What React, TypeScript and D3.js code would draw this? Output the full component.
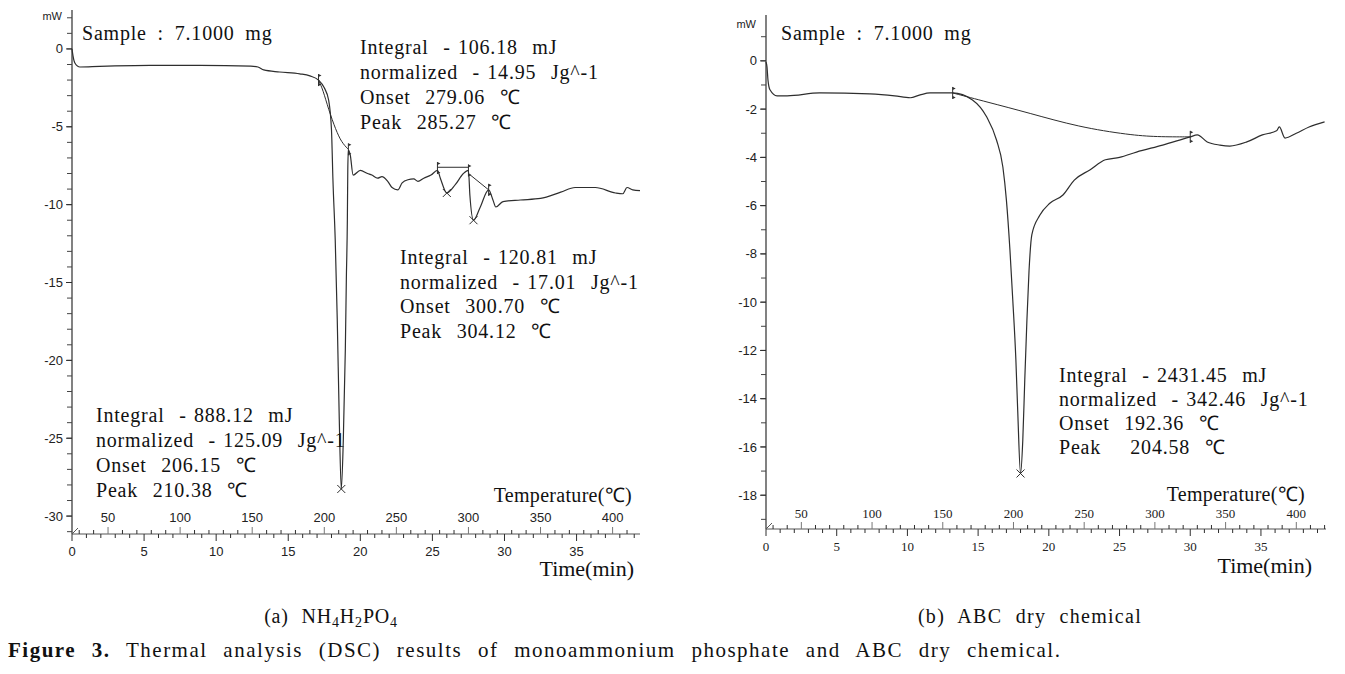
import React from 'react';
import * as d3 from 'd3';

// ---------- DATA (time in min, heat flow in mW) ----------
const curveA: [number, number][] = [
  [0, 0], [0.07, -0.45], [0.2, -0.9], [0.55, -1.16], [1.9, -1.12], [5.4, -1.06], [8.9, -1.06],
  [12.4, -1.1], [12.9, -1.16], [13.3, -1.35], [14.4, -1.48], [15.8, -1.6], [16.5, -1.73],
  [17.1, -2.0], [17.5, -2.5], [17.8, -3.28], [18.0, -5.2], [18.1, -8.4], [18.26, -12.3],
  [18.4, -17.4], [18.54, -23.8], [18.68, -28.26], [18.82, -25.1], [18.96, -19.3], [19.03, -14.8],
  [19.1, -11.0], [19.13, -7.8], [19.17, -6.5], [19.3, -6.8], [19.5, -8.1], [20.0, -7.8],
  [20.5, -8.0], [20.8, -8.1], [21.2, -8.3], [21.5, -8.2], [21.9, -8.5], [22.2, -8.9],
  [22.6, -9.05], [22.9, -8.6], [23.3, -8.4], [23.7, -8.35], [24.0, -8.5], [24.4, -8.3],
  [24.9, -8.1], [25.35, -7.8], [25.55, -8.3], [26.0, -9.25], [26.6, -8.7], [27.15, -8.0],
  [27.5, -7.8], [27.6, -9.4], [27.85, -11.0], [28.3, -10.2], [28.9, -9.05], [29.2, -9.7],
  [29.4, -10.15], [29.9, -9.8], [31.1, -9.7], [32.5, -9.6], [33.9, -9.2], [34.9, -8.9],
  [36.3, -8.9], [37.7, -9.25], [38.2, -9.3], [38.5, -8.9], [38.9, -9.05], [39.4, -9.1],
];
const baseA1: [number, number][] = [[17.1, -2.0], [17.4, -2.6], [17.8, -3.9], [18.3, -5.2], [18.7, -6.0], [19.17, -6.45]];
const baseA2: [number, number][] = [[25.35, -7.6], [27.5, -7.6]];
const baseA3: [number, number][] = [[27.5, -8.0], [28.9, -9.05]];
const limitsA: [number, number][] = [[17.1, -2.0], [19.17, -6.45], [25.35, -7.65], [27.5, -7.8], [28.9, -9.05]];
const peaksA: [number, number][] = [[18.68, -28.26], [26.0, -9.25], [27.85, -11.0]];

const curveB: [number, number][] = [
  [0, -0.05], [0.07, -0.25], [0.14, -0.8], [0.28, -1.2], [0.78, -1.45], [1.5, -1.45], [3.8, -1.33],
  [7.35, -1.37], [9.1, -1.45], [10.2, -1.53], [10.9, -1.41], [11.6, -1.33], [13.2, -1.33],
  [14.6, -1.62], [15.6, -2.32], [16.3, -3.28], [16.75, -4.4], [17.0, -5.77], [17.25, -7.84],
  [17.45, -9.9], [17.67, -12.4], [17.8, -14.5], [18.0, -17.1], [18.16, -15.7], [18.3, -13.2],
  [18.45, -10.75], [18.6, -8.7], [18.8, -7.2], [19.36, -6.4], [20.07, -5.9], [21.0, -5.56],
  [21.8, -4.94], [22.9, -4.52], [24.0, -4.1], [25.0, -4.0], [26.2, -3.78], [28.05, -3.49],
  [30.0, -3.15], [30.5, -3.07], [31.2, -3.36], [32.1, -3.49], [32.8, -3.53], [34.0, -3.36],
  [35.1, -3.07], [36.1, -2.9], [36.3, -2.74], [36.7, -3.2], [37.5, -3.0], [38.4, -2.74], [39.5, -2.53],
];
const baseB: [number, number][] = [[13.2, -1.33], [15.6, -1.7], [18.6, -2.16], [22.1, -2.74], [25.7, -3.07], [27.6, -3.15], [30.0, -3.15]];
const limitsB: [number, number][] = [[13.2, -1.33], [30.0, -3.15]];
const peaksB: [number, number][] = [[18.0, -17.1]];

const timeTickLabels = [0, 5, 10, 15, 20, 25, 30, 35];
const tempTickLabels = [50, 100, 150, 200, 250, 300, 350, 400];
const yTickLabelsA = [0, -5, -10, -15, -20, -25, -30];
const yTickLabelsB = [0, -2, -4, -6, -8, -10, -12, -14, -16, -18];

const sampleText = 'Sample : 7.1000 mg';
const annotA1 = ['Integral  - 106.18  mJ', 'normalized  - 14.95  Jg^-1', 'Onset  279.06  ℃', 'Peak  285.27  ℃'];
const annotA2 = ['Integral  - 120.81  mJ', 'normalized  - 17.01  Jg^-1', 'Onset  300.70  ℃', 'Peak  304.12  ℃'];
const annotA3 = ['Integral  - 888.12  mJ', 'normalized  - 125.09  Jg^-1', 'Onset  206.15  ℃', 'Peak  210.38  ℃'];
const annotB1 = ['Integral  - 2431.45  mJ', 'normalized  - 342.46  Jg^-1', 'Onset  192.36  ℃', 'Peak    204.58  ℃'];

const START_TEMP = 25; // °C at t = 0
const RATE = 10; // °C/min

const SERIF = '"Liberation Serif", "Times New Roman", serif';
const SANS = '"Liberation Sans", Arial, sans-serif';
const INK = '#2e2e2e';

type Pt = [number, number];

function Flag({ x, y }: { x: number; y: number }) {
  return (
    <g stroke={INK} fill={INK}>
      <line x1={x} x2={x} y1={y - 6} y2={y + 6} strokeWidth={1} />
      <path d={`M${x},${y - 6} L${x + 3},${y - 4.5} L${x},${y - 3} Z`} stroke="none" />
      <path d={`M${x},${y + 6} L${x + 3},${y + 4.5} L${x},${y + 3} Z`} stroke="none" />
    </g>
  );
}

function Cross({ x, y }: { x: number; y: number }) {
  return (
    <g stroke={INK} strokeWidth={1}>
      <line x1={x - 4} x2={x + 4} y1={y - 4} y2={y + 4} />
      <line x1={x - 4} x2={x + 4} y1={y + 4} y2={y - 4} />
    </g>
  );
}

function TextBlock({ lines, x, y, dy }: { lines: string[]; x: number; y: number; dy: number }) {
  return (
    <g>
      {lines.map((l, i) => (
        <text key={i} x={x} y={y + i * dy} fontFamily={SERIF} fontSize={20} fill="#111"
          letterSpacing={0.8} wordSpacing={1.5} style={{ whiteSpace: 'pre' }}>
          {l}
        </text>
      ))}
    </g>
  );
}

interface PanelProps {
  x0: number; x1: number; tMax: number;
  yTop: number; yBot: number; vTop: number; vBot: number;
  yLabels: number[]; yMinor: number[]; mwY: number;
  curve: Pt[]; bases: Pt[][]; limits: Pt[]; peaks: Pt[];
  tickFont: string;
  tempLabelOff: number; timeLabelOff: number;
}

function Panel(p: PanelProps) {
  const x = d3.scaleLinear().domain([0, p.tMax]).range([p.x0, p.x1]);
  const xT = d3.scaleLinear().domain([START_TEMP, START_TEMP + p.tMax * RATE]).range([p.x0, p.x1]);
  const y = d3.scaleLinear().domain([p.vTop, p.vBot]).range([p.yTop, p.yBot]);
  const line = d3.line<Pt>().x(d => x(d[0])).y(d => y(d[1])).curve(d3.curveMonotoneX);
  const lin = d3.line<Pt>().x(d => x(d[0])).y(d => y(d[1])).curve(d3.curveBasis);
  const axisY = p.yBot;
  const minTicks = d3.range(0, p.tMax + 0.001, 1);
  const tempTicks = d3.range(30, START_TEMP + p.tMax * RATE, 10);
  return (
    <g>
      {/* y axis */}
      <line x1={p.x0} x2={p.x0} y1={p.yTop} y2={axisY} stroke={INK} strokeWidth={1.2} />
      {p.yMinor.map(v => (
        <line key={'ym' + v} x1={p.x0 - 5} x2={p.x0} y1={y(v)} y2={y(v)} stroke="#444" strokeWidth={1} />
      ))}
      {p.yLabels.map(v => (
        <g key={'yl' + v}>
          <line x1={p.x0 - 6} x2={p.x0} y1={y(v)} y2={y(v)} stroke={INK} strokeWidth={1} />
          <text x={p.x0 - 9} y={y(v)} dy="0.35em" textAnchor="end" fontFamily={SANS} fontSize={13} fill="#222">
            {v}
          </text>
        </g>
      ))}
      <text x={p.x0 - 10} y={p.mwY} dy="0.35em" textAnchor="end" fontFamily={SANS} fontSize={11} fill="#222">mW</text>
      {/* bottom axis */}
      <line x1={p.x0} x2={p.x1} y1={axisY} y2={axisY} stroke="#555" strokeWidth={1.2} />
      <line x1={p.x0} x2={p.x0 + 6} y1={axisY} y2={axisY - 6} stroke="#555" strokeWidth={1} />
      {minTicks.map(t => (
        <line key={'tt' + t} x1={x(t)} x2={x(t)} y1={axisY} y2={axisY + (t % 5 === 0 ? 7 : 4)} stroke={INK} strokeWidth={1} />
      ))}
      {tempTicks.map(T => (
        <line key={'Tt' + T} x1={xT(T)} x2={xT(T)} y1={axisY} y2={axisY - (T % 50 === 0 ? 7 : 4)} stroke={T % 50 === 0 ? '#777' : INK} strokeWidth={1} />
      ))}
      {timeTickLabels.map(t => (
        <text key={'tl' + t} x={x(t)} y={axisY + p.timeLabelOff} dy="0.35em" textAnchor="middle" fontFamily={p.tickFont} fontSize={13} fill="#222">
          {t}
        </text>
      ))}
      {tempTickLabels.map(T => (
        <text key={'Tl' + T} x={xT(T)} y={axisY - p.tempLabelOff} dy="0.35em" textAnchor="middle" fontFamily={p.tickFont} fontSize={13} fill="#222">
          {T}
        </text>
      ))}
      {/* baselines */}
      {p.bases.map((b, i) => (
        <path key={'b' + i} d={lin(b) || ''} fill="none" stroke={INK} strokeWidth={1} />
      ))}
      {/* curve */}
      <path d={line(p.curve) || ''} fill="none" stroke={INK} strokeWidth={1.2} />
      {p.limits.map((d, i) => <Flag key={'f' + i} x={x(d[0])} y={y(d[1])} />)}
      {p.peaks.map((d, i) => <Cross key={'c' + i} x={x(d[0])} y={y(d[1])} />)}
    </g>
  );
}

export default function App() {
  return (
    <svg width={1345} height={674} style={{ position: 'absolute', left: 0, top: 0, background: '#fff' }}>
      <rect width={1345} height={674} fill="#fff" />
      <Panel
        x0={72} x1={640} tMax={39.4}
        yTop={10} yBot={534} vTop={2.5} vBot={-31.15}
        yLabels={yTickLabelsA} yMinor={d3.range(2, -32, -1)} mwY={16}
        curve={curveA} bases={[baseA1, baseA2, baseA3]} limits={limitsA} peaks={peaksA}
        tickFont={SANS} tempLabelOff={17} timeLabelOff={17}
      />
      <Panel
        x0={766} x1={1326} tMax={39.6}
        yTop={15} yBot={529} vTop={1.9} vBot={-19.4}
        yLabels={yTickLabelsB} yMinor={d3.range(1, -20, -1)} mwY={24}
        curve={curveB} bases={[baseB]} limits={limitsB} peaks={peaksB}
        tickFont={SERIF} tempLabelOff={16} timeLabelOff={17}
      />
      {/* left annotations */}
      <text x={82} y={40} fontFamily={SERIF} fontSize={20} fill="#111" letterSpacing={0.8} wordSpacing={5}>{sampleText}</text>
      <TextBlock lines={annotA1} x={360} y={54} dy={25} />
      <TextBlock lines={annotA2} x={400} y={264} dy={24.5} />
      <TextBlock lines={annotA3} x={96} y={422} dy={25} />
      <text x={632} y={502} textAnchor="end" fontFamily={SERIF} fontSize={20} fill="#111" letterSpacing={0.3}>Temperature(℃)</text>
      <text x={634} y={576} textAnchor="end" fontFamily={SERIF} fontSize={22} fill="#111">Time(min)</text>
      {/* right annotations */}
      <text x={781} y={40} fontFamily={SERIF} fontSize={20} fill="#111" letterSpacing={0.8} wordSpacing={5}>{sampleText}</text>
      <TextBlock lines={annotB1} x={1059} y={382} dy={24} />
      <text x={1305} y={501} textAnchor="end" fontFamily={SERIF} fontSize={20} fill="#111" letterSpacing={0.3}>Temperature(℃)</text>
      <text x={1312} y={573} textAnchor="end" fontFamily={SERIF} fontSize={22} fill="#111">Time(min)</text>
      {/* captions */}
      <text x={331} y={623} textAnchor="middle" fontFamily={SERIF} fontSize={20} fill="#111" letterSpacing={0.8} wordSpacing={7}>
        (a) NH<tspan fontSize={14} dy={4}>4</tspan><tspan dy={-4}>H</tspan><tspan fontSize={14} dy={4}>2</tspan><tspan dy={-4}>PO</tspan><tspan fontSize={14} dy={4}>4</tspan>
      </text>
      <text x={1030} y={623} textAnchor="middle" fontFamily={SERIF} fontSize={20} fill="#111" letterSpacing={1.3} wordSpacing={7}>(b) ABC dry chemical</text>
      <text x={8} y={657} fontFamily={SERIF} fontSize={21} fill="#111" letterSpacing={1.5} wordSpacing={9}>
        <tspan fontWeight="bold">Figure 3.</tspan> Thermal analysis (DSC) results of monoammonium phosphate and ABC dry chemical.
      </text>
    </svg>
  );
}
